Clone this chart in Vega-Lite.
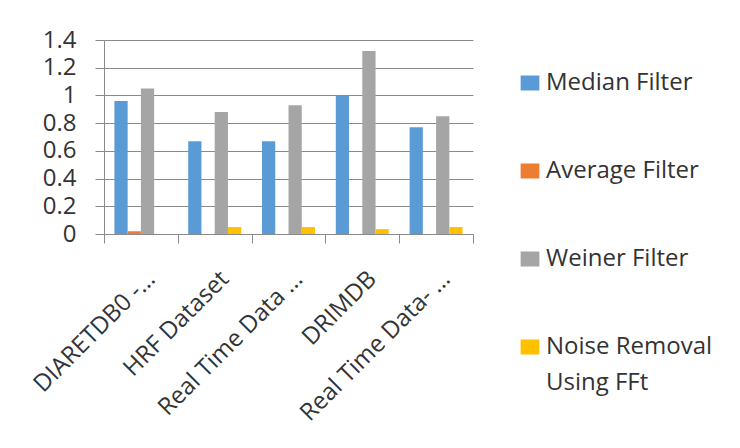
{
  "$schema": "https://vega.github.io/schema/vega-lite/v6.json",
  "width": 369,
  "height": 194,
  "autosize": {"type": "none"},
  "padding": {"left": 104, "top": 40, "right": 267, "bottom": 214},
  "background": "white",
  "data": {
    "values": [
      {"dataset": "DIARETDB0 -…", "filter": "Median Filter", "value": 0.96},
      {"dataset": "DIARETDB0 -…", "filter": "Average Filter", "value": 0.02},
      {"dataset": "DIARETDB0 -…", "filter": "Weiner Filter", "value": 1.05},
      {"dataset": "DIARETDB0 -…", "filter": "Noise Removal Using FFt", "value": 0},
      {"dataset": "HRF Dataset", "filter": "Median Filter", "value": 0.67},
      {"dataset": "HRF Dataset", "filter": "Average Filter", "value": 0},
      {"dataset": "HRF Dataset", "filter": "Weiner Filter", "value": 0.88},
      {"dataset": "HRF Dataset", "filter": "Noise Removal Using FFt", "value": 0.05},
      {"dataset": "Real Time Data …", "filter": "Median Filter", "value": 0.67},
      {"dataset": "Real Time Data …", "filter": "Average Filter", "value": 0},
      {"dataset": "Real Time Data …", "filter": "Weiner Filter", "value": 0.93},
      {"dataset": "Real Time Data …", "filter": "Noise Removal Using FFt", "value": 0.05},
      {"dataset": "DRIMDB", "filter": "Median Filter", "value": 1.0},
      {"dataset": "DRIMDB", "filter": "Average Filter", "value": 0},
      {"dataset": "DRIMDB", "filter": "Weiner Filter", "value": 1.32},
      {"dataset": "DRIMDB", "filter": "Noise Removal Using FFt", "value": 0.035},
      {"dataset": "Real Time Data- …", "filter": "Median Filter", "value": 0.77},
      {"dataset": "Real Time Data- …", "filter": "Average Filter", "value": 0},
      {"dataset": "Real Time Data- …", "filter": "Weiner Filter", "value": 0.85},
      {"dataset": "Real Time Data- …", "filter": "Noise Removal Using FFt", "value": 0.05}
    ]
  },
  "mark": {"type": "bar"},
  "encoding": {
    "x": {
      "field": "dataset",
      "type": "nominal",
      "sort": null,
      "scale": {"paddingInner": 0, "paddingOuter": 0},
      "axis": {
        "title": null,
        "tickBand": "extent",
        "ticks": true,
        "tickSize": 9,
        "tickColor": "#8a8a8a",
        "domainColor": "#8a8a8a",
        "labelAngle": -45,
        "labelAlign": "right",
        "labelBaseline": "middle",
        "labelPadding": 32,
        "labelOffset": 10,
        "labelFontSize": 24,
        "labelColor": "#333333",
        "labelLimit": 300,
        "grid": false
      }
    },
    "xOffset": {
      "field": "filter",
      "type": "nominal",
      "sort": ["Median Filter", "Average Filter", "Weiner Filter", "Noise Removal Using FFt"],
      "scale": {"paddingInner": 0, "paddingOuter": 0.785}
    },
    "y": {
      "field": "value",
      "type": "quantitative",
      "scale": {"domain": [0, 1.4], "nice": false},
      "axis": {
        "title": null,
        "values": [0, 0.2, 0.4, 0.6, 0.8, 1, 1.2, 1.4],
        "format": "~g",
        "grid": true,
        "gridColor": "#8a8a8a",
        "tickColor": "#8a8a8a",
        "domainColor": "#8a8a8a",
        "tickSize": 9,
        "labelPadding": 19,
        "labelFontSize": 24,
        "labelColor": "#333333"
      }
    },
    "color": {
      "field": "filter",
      "type": "nominal",
      "sort": ["Median Filter", "Average Filter", "Weiner Filter", "Noise Removal Using FFt"],
      "scale": {
        "domain": ["Median Filter", "Average Filter", "Weiner Filter", "Noise Removal Using FFt"],
        "range": ["#5B9BD5", "#ED7D31", "#A5A5A5", "#FFC000"]
      },
      "legend": {
        "title": null,
        "orient": "none",
        "legendX": 414,
        "legendY": 31,
        "symbolType": "M-1.25,-1H1.25V1H-1.25Z",
        "symbolSize": 225,
        "symbolStrokeWidth": 0,
        "labelFontSize": 24,
        "labelColor": "#333333",
        "labelOffset": 4,
        "labelLimit": 300,
        "rowPadding": 64,
        "labelExpr": "datum.label == 'Noise Removal Using FFt' ? ['Noise Removal', 'Using FFt'] : datum.label",
        "encode": {"labels": {"update": {"lineHeight": {"value": 36}}}}
      }
    }
  },
  "config": {
    "font": "Open Sans",
    "view": {"stroke": null}
  }
}
